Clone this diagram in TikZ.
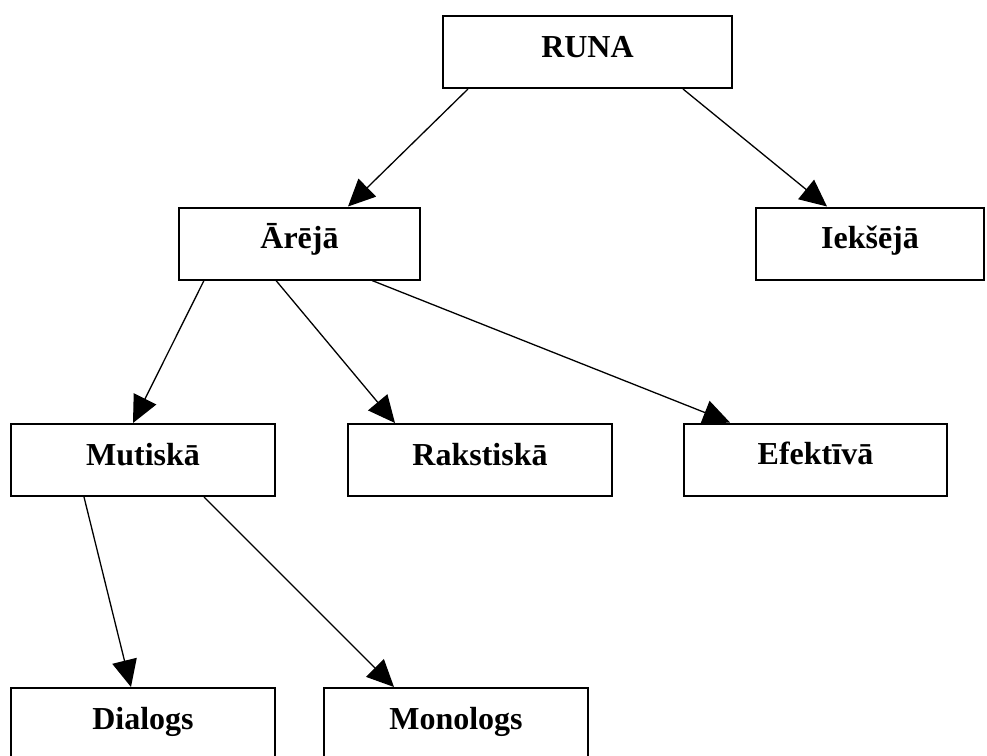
\documentclass[tikz,border=0pt]{standalone}
\usepackage{fontspec}
\setmainfont{Liberation Serif}
\usetikzlibrary{arrows.meta,calc}
\begin{document}
\begin{tikzpicture}[x=0.5pt,y=-0.5pt]
\tikzset{kaste/.style={draw, line width=1pt, minimum height=36pt, inner sep=0pt, text height=11pt, text depth=6pt, font=\fontsize{16}{18}\selectfont\bfseries},
bulta/.style={-{Triangle[length=13.5pt,width=12.5pt]}, line width=0.65pt}}
\useasboundingbox (0,0) rectangle (987,756);
\clip (0,0) rectangle (987,756);
\node[kaste, minimum width=144.5pt] (R) at (587.5,52) {RUNA};
\node[kaste, minimum width=120.5pt] (A) at (299.5,243.5) {Ārējā};
\node[kaste, minimum width=114pt] (I) at (870,243.5) {Iekšējā};
\node[kaste, minimum width=132pt] (M) at (143,460) {Mutiskā};
\node[kaste, minimum width=132pt] (Rk) at (480,460) {Rakstiskā};
\node[kaste, minimum width=131.5pt] (E) at (815.5,459.5) {Efektīvā};
\node[kaste, minimum width=132pt] (D) at (143,724) {Dialogs};
\node[kaste, minimum width=132pt] (Mo) at (456,724) {Monologs};
\draw[bulta] ($(R.south)+(-119.5,0)$) -- ($(A.north)+(48.5,0)$);
\draw[bulta] ($(R.south)+(95.5,0)$) -- ($(I.north)+(-43,0)$);
\draw[bulta] ($(A.south)+(-95.5,0)$) -- ($(M.north)+(-10,0)$);
\draw[bulta] ($(A.south)+(-23.5,0)$) -- ($(Rk.north)+(-85,0)$);
\draw[bulta] ($(A.south)+(72.5,0)$) -- ($(E.north)+(-85.5,0)$);
\draw[bulta] ($(M.south)+(-59,0)$) -- ($(D.north)+(-12,0)$);
\draw[bulta] ($(M.south)+(61,0)$) -- ($(Mo.north)+(-62,0)$);
\end{tikzpicture}
\end{document}
